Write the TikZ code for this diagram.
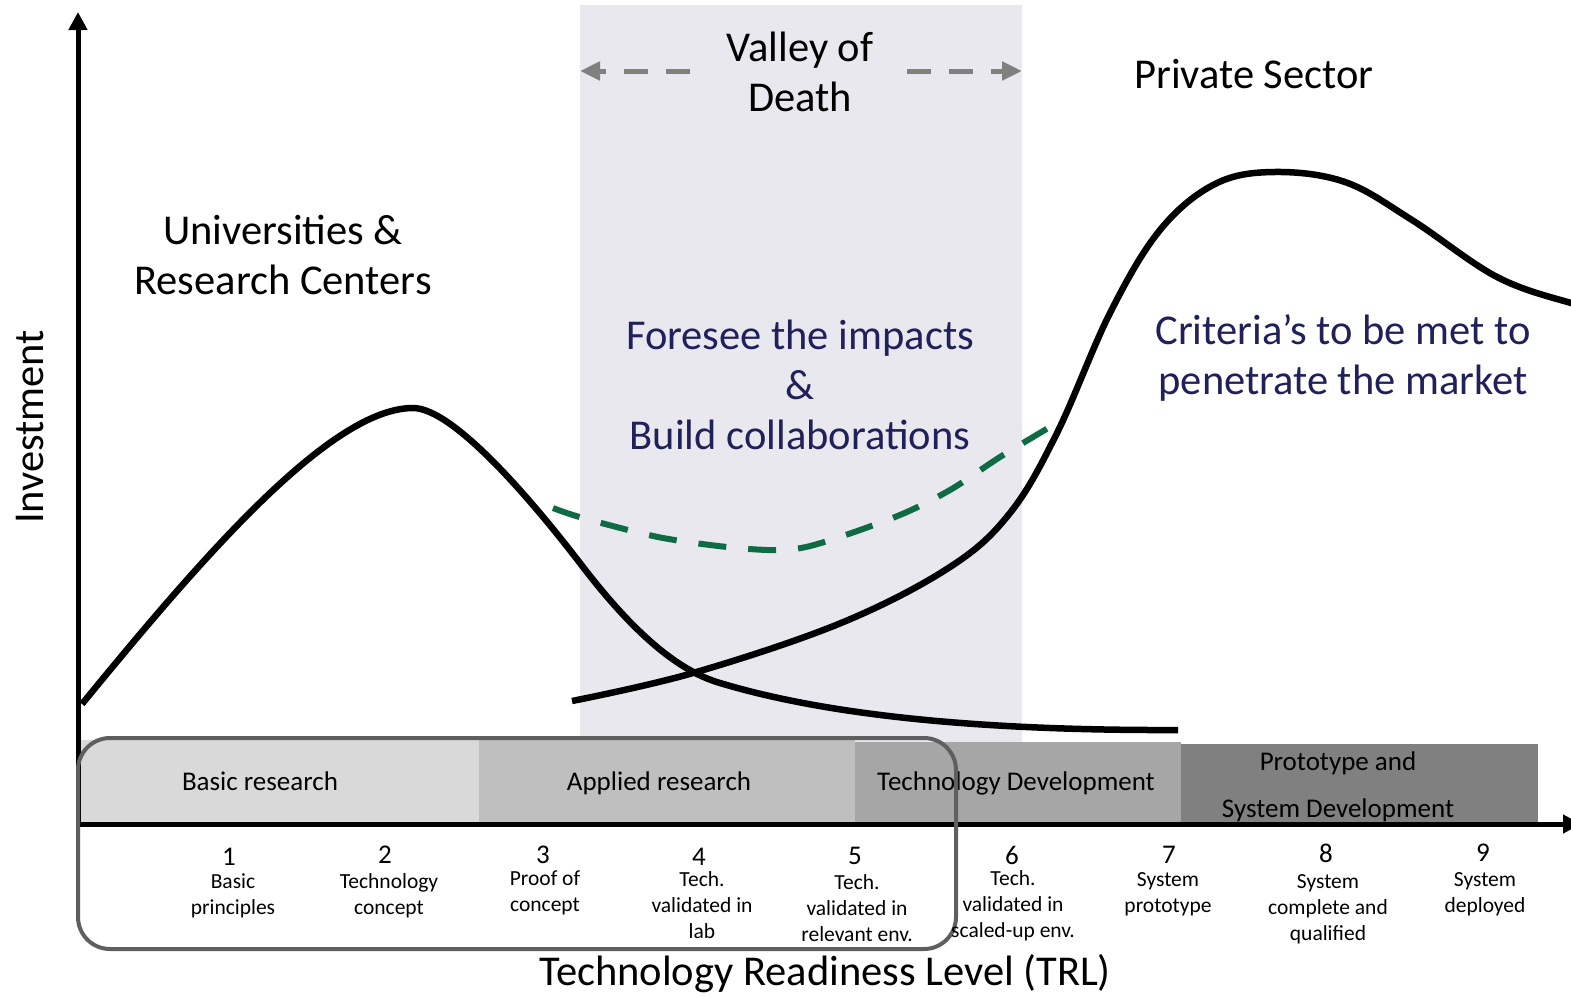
\documentclass[tikz,border=0pt]{standalone}
\usepackage{fontspec}
\setmainfont{Carlito}
\usetikzlibrary{arrows.meta}
\definecolor{valley}{RGB}{232,232,238}
\definecolor{navytxt}{RGB}{32,32,90}
\definecolor{greendash}{RGB}{14,107,67}
\definecolor{bandA}{RGB}{217,217,217}
\definecolor{bandB}{RGB}{191,191,191}
\definecolor{bandC}{RGB}{166,166,166}
\definecolor{bandD}{RGB}{128,128,128}
\definecolor{framecol}{RGB}{95,95,95}
\definecolor{vodarrow}{RGB}{128,128,128}
\newcommand{\dstrut}{\rule{0pt}{16pt}}
\tikzset{
  bigtxt/.style={font=\fontsize{42.5}{50}\selectfont, align=center, inner sep=0pt},
  navytext/.style={bigtxt, text=navytxt},
  bandtxt/.style={font=\fontsize{27}{47}\selectfont, inner sep=0pt, anchor=base},
  numtxt/.style={font=\fontsize{27}{30}\selectfont, inner sep=0pt},
  desctxt/.style={font=\fontsize{21.5}{26.3}\selectfont, align=center, inner sep=0pt, anchor=north},
  curve/.style={line width=6.5pt, line join=round},
  axisline/.style={line width=5pt},
  axistip/.style={-{Triangle[length=18pt,width=18pt]}},
  vodline/.style={vodarrow, line width=5pt, dash pattern=on 24pt off 18pt, -{Triangle[length=20pt,width=18pt]}},
  greencurve/.style={greendash, line width=6pt, dash pattern=on 28pt off 22pt},
  framebox/.style={draw=framecol, line width=4pt, rounded corners=32pt}
}
\begin{document}
\begin{tikzpicture}[x=1pt,y=-1pt]
\useasboundingbox (0,0) rectangle (1571,997);
\fill[white] (0,0) rectangle (1571,997);
% valley of death background
\fill[valley] (580,5) rectangle (1022,742);
% vertical axis (behind bands)
\coordinate (O) at (78,826);
\coordinate (ytop) at (78,12);
\draw[axisline, axistip] (O) -- (ytop);
% bands
\fill[bandA] (81,740) rectangle (479,822);
\fill[bandB] (479,740) rectangle (855,822);
\fill[bandC] (855,742) rectangle (1181,822);
\fill[bandD] (1181,744) rectangle (1538,824);
\node[bandtxt] (basic) at (260,790) {Basic research};
\node[bandtxt] (applied) at (659,790) {Applied research};
\node[bandtxt] (techdev) at (1016,790) {Technology Development};
\node[bandtxt] (proto1) at (1338,770) {Prototype and};
\node[bandtxt] (proto2) at (1338,817) {System Development};
% curves
\draw[curve] (82,704) .. controls (200,560) and (330,408) .. (413,408)
  .. controls (455,408) and (538,508) .. (583,567)
  .. controls (630,628) and (675,670) .. (720,683)
  .. controls (790,704) and (920,731) .. (1178,730);
\draw[curve] plot[smooth, tension=0.6] coordinates {(572,701) (693,673) (841,623) (950,567) (1010,513) (1057,433) (1110,313) (1160,230) (1215,184) (1274,172) (1345,182) (1412,220) (1497,277) (1571,303) (1600,308)};
\draw[greencurve] plot[smooth, tension=0.5] coordinates {(553,508) (583,518) (663,538) (749,549) (806,547) (895,517) (950,490) (1000,457) (1055,424)};
% horizontal axis
\coordinate (O2) at (76,824);
\coordinate (xend) at (1581,824);
\draw[axisline, axistip] (O2) -- (xend);
% frame
\draw[framebox] (78,738) rectangle (956,949);
% valley of death label and arrows
\node[bigtxt] (vod) at (800,72) {Valley of\\Death};
\coordinate (vlA) at (690,71);
\coordinate (vlB) at (580,71);
\coordinate (vrA) at (907,71);
\coordinate (vrB) at (1022,71);
\draw[vodline] (vlA) -- (vlB);
\draw[vodline] (vrA) -- (vrB);
% titles
\node[bigtxt] (priv) at (1254,74) {Private Sector};
\node[bigtxt] (univ) at (283,255) {Universities \&\\Research Centers};
\node[navytext] (foresee) at (800,385) {Foresee the impacts\\\&\\Build collaborations};
\node[navytext] (crit) at (1343,358) {Criteria’s to be met to\\penetrate the market};
\node[bigtxt] (trl) at (825,974) {Technology Readiness Level (TRL)};
\node[bigtxt, rotate=90] (inv) at (30,427) {Investment};
% TRL levels
\node[numtxt] (n1) at (229,857) {1};
\node[numtxt] (n2) at (385,855) {2};
\node[numtxt] (n3) at (543,855) {3};
\node[numtxt] (n4) at (699,857) {4};
\node[numtxt] (n5) at (855,856) {5};
\node[numtxt] (n6) at (1012,855) {6};
\node[numtxt] (n7) at (1169,855) {7};
\node[numtxt] (n8) at (1326,853) {8};
\node[numtxt] (n9) at (1483,853) {9};
\node[desctxt] (d1) at (233,872) {\dstrut Basic\\principles};
\node[desctxt] (d2) at (389,872) {\dstrut Technology\\concept};
\node[desctxt] (d3) at (545,869) {\dstrut Proof of\\concept};
\node[desctxt] (d4) at (702,870) {\dstrut Tech.\\validated in\\lab};
\node[desctxt] (d5) at (857,873) {\dstrut Tech.\\validated in\\relevant env.};
\node[desctxt] (d6) at (1013,869) {\dstrut Tech.\\validated in\\scaled-up env.};
\node[desctxt] (d7) at (1168,870) {\dstrut System\\prototype};
\node[desctxt] (d8) at (1328,872) {\dstrut System\\complete and\\qualified};
\node[desctxt] (d9) at (1485,870) {\dstrut System\\deployed};
\end{tikzpicture}
\end{document}
